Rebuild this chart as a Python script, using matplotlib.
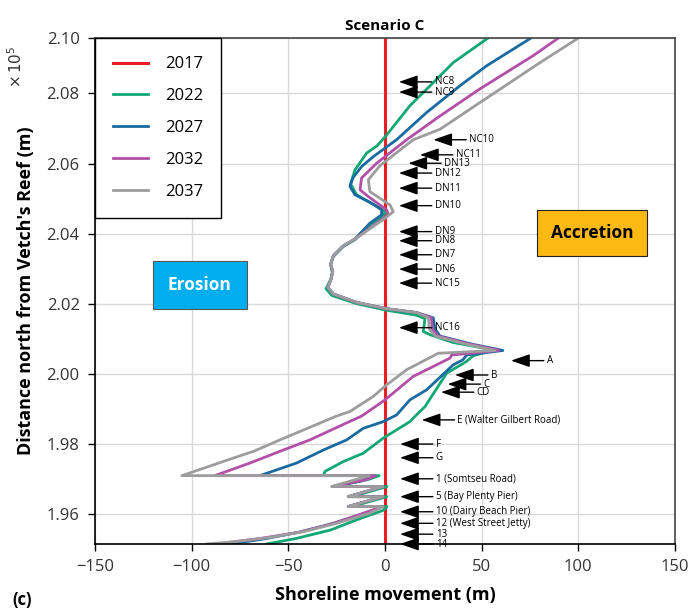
import matplotlib.pyplot as plt

plt.rcParams['font.family'] = ['Open Sans', 'DejaVu Sans']

# shoreline movement (m) vs distance north (x 1e5 m)
years = ['2017', '2022', '2027', '2032', '2037']
colors = ['#ED1C24', '#12A874', '#1A6AA2', '#B34FA8', '#9D9D9D']

move_2017 = [0, 0]
north_2017 = [1.9515, 2.0958]

move_2022 = [53.3, 35.3, 25.0, 12.9, 0.5, -4.0, -9.5, -15.5, -17.8, -14.6, -8.0, -2.6, 0.3, -2.5,
             -8.0, -15.5, -21.6, -26.7, -28.1, -27.3, -28.0, -30.5, -27.5, -15.0, 0.5, 16.0, 20.7,
             19.8, 23.3, 35.0, 50.9, 55.5, 45.7, 42.0, 31.9, 20.7, 14.6, 12.9, -0.9, -11.2, -21.6,
             -31.0, -31.9, -3.0, -8.0, -26.0, 1.0, -17.0, 1.0, -17.0, 1.0, -0.9, -14.6, -28.1,
             -45.7, -61.2]
north_2022 = [2.0958, 2.0888, 2.0831, 2.0765, 2.0679, 2.0651, 2.0630, 2.0582, 2.0542, 2.0511, 2.0490,
              2.0473, 2.0460, 2.0444, 2.0425, 2.0383, 2.0363, 2.0335, 2.0311, 2.0290, 2.0270, 2.0243,
              2.0224, 2.0201, 2.0182, 2.0168, 2.0158, 2.0121, 2.0112, 2.0090, 2.0074, 2.0067, 2.0052,
              2.0035, 2.0002, 1.9907, 1.9874, 1.9864, 1.9817, 1.9774, 1.9750, 1.9722, 1.9710, 1.9710,
              1.9700, 1.9679, 1.9679, 1.9650, 1.9650, 1.9622, 1.9622, 1.9611, 1.9584, 1.9555, 1.9531,
              1.9515]

move_2027 = [75.5, 52.6, 38.8, 21.6, 6.0, -6.0, -12.0, -16.5, -18.1, -15.5, -6.9, -1.7, -1.7, -7.8,
             -15.5, -21.6, -26.7, -28.1, -27.0, -27.8, -29.5, -26.7, -14.6, 0.9, 16.4, 25.0, 25.9,
             28.5, 45.0, 61.0, 42.3, 40.2, 35.3, 21.6, 12.9, 6.0, -0.9, -11.2, -19.8, -31.9, -45.7,
             -64.7, -7.0, -12.0, -27.0, -1.0, -19.0, -1.0, -19.0, -1.0, -12.0, -28.0, -45.0, -62.0,
             -80.0]
north_2027 = [2.0958, 2.0879, 2.0822, 2.0746, 2.0668, 2.0620, 2.0592, 2.0560, 2.0535, 2.0511, 2.0487,
              2.0468, 2.0454, 2.0430, 2.0385, 2.0365, 2.0337, 2.0313, 2.0292, 2.0272, 2.0247, 2.0228,
              2.0204, 2.0186, 2.0175, 2.0160, 2.0128, 2.0108, 2.0085, 2.0067, 2.0054, 2.0040, 2.0026,
              1.9955, 1.9926, 1.9883, 1.9864, 1.9845, 1.9812, 1.9783, 1.9746, 1.9710, 1.9710, 1.9695,
              1.9679, 1.9679, 1.9650, 1.9650, 1.9622, 1.9622, 1.9600, 1.9572, 1.9548, 1.9530, 1.9515]

move_2032 = [89.7, 76.7, 49.1, 28.5, 11.2, -4.3, -12.1, -12.9, -8.6, 0.9, 1.7, -4.3, -15.5, -21.6,
             -26.7, -28.1, -27.0, -27.8, -29.5, -26.7, -14.6, 0.9, 16.4, 24.0, 24.5, 27.5, 44.0, 59.0,
             34.5, 33.6, 14.6, 0.0, -12.0, -20.0, -38.8, -52.6, -69.8, -88.0, -5.0, -10.0, -27.3,
             -1.0, -19.0, -1.0, -19.0, -1.0, -12.0, -27.0, -44.0, -63.0, -87.0]
north_2032 = [2.0958, 2.0908, 2.0813, 2.0736, 2.0668, 2.0601, 2.0559, 2.0525, 2.0506, 2.0468, 2.0454,
              2.0430, 2.0385, 2.0365, 2.0337, 2.0313, 2.0292, 2.0272, 2.0247, 2.0228, 2.0204, 2.0186,
              2.0175, 2.0160, 2.0128, 2.0108, 2.0085, 2.0067, 2.0054, 2.0045, 1.9993, 1.9926, 1.9880,
              1.9860, 1.9812, 1.9783, 1.9746, 1.9710, 1.9710, 1.9698, 1.9679, 1.9679, 1.9650, 1.9650,
              1.9622, 1.9622, 1.9601, 1.9573, 1.9549, 1.9532, 1.9515]

move_2037 = [100.0, 80.2, 49.1, 28.5, 14.6, -2.6, -8.6, -7.8, 2.6, 4.3, -0.9, -6.0, -15.5, -21.6,
             -26.7, -28.1, -27.0, -27.8, -29.5, -26.7, -14.6, 0.9, 16.4, 22.5, 23.0, 26.0, 42.0, 57.0,
             27.6, 11.2, 0.9, -6.0, -18.1, -25.0, -54.3, -68.1, -78.5, -105.0, -8.0, -27.6, -1.0,
             -19.0, -1.0, -19.0, -1.0, -7.8, -25.0, -42.3, -59.5, -76.7, -92.3]
north_2037 = [2.0958, 2.0888, 2.0774, 2.0698, 2.0668, 2.0594, 2.0554, 2.0520, 2.0482, 2.0463, 2.0440,
              2.0421, 2.0385, 2.0365, 2.0337, 2.0313, 2.0292, 2.0272, 2.0247, 2.0228, 2.0204, 2.0186,
              2.0175, 2.0160, 2.0128, 2.0108, 2.0085, 2.0067, 2.0059, 2.0012, 1.9969, 1.9936, 1.9893,
              1.9880, 1.9812, 1.9779, 1.9760, 1.9710, 1.9710, 1.9679, 1.9679, 1.9650, 1.9650, 1.9622,
              1.9622, 1.9603, 1.9574, 1.9550, 1.9534, 1.9522, 1.9515]

# site markers
site_labels = ['NC8', 'NC9', 'NC10', 'NC11', 'DN13', 'DN12', 'DN11', 'DN10', 'DN9', 'DN8', 'DN7',
               'DN6', 'NC15', 'NC16', 'A', 'B', 'C', 'CD', 'E (Walter Gilbert Road)', 'F', 'G',
               '1 (Somtseu Road)', '5 (Bay Plenty Pier)', '10 (Dairy Beach Pier)',
               '12 (West Street Jetty)', '13', '14']
site_north = [2.0833, 2.0804, 2.0668, 2.0625, 2.0601, 2.0573, 2.0530, 2.0480, 2.0406, 2.0380, 2.0340,
              2.0299, 2.0259, 2.0132, 2.0038, 1.9997, 1.9971, 1.9948, 1.9869, 1.9800, 1.9761, 1.9701,
              1.9650, 1.9607, 1.9574, 1.9543, 1.9515]
site_tip = [7.2, 7.2, 25.0, 18.1, 12.1, 7.2, 7.2, 7.2, 7.2, 7.2, 7.2, 7.2, 7.2, 7.2, 65.2, 36.2, 32.4,
            29.0, 19.0, 7.8, 7.8, 7.8, 7.8, 7.8, 7.8, 7.8, 7.8]

xticks = [-150, -100, -50, 0, 50, 100, 150]
yticks = [1.96, 1.98, 2.00, 2.02, 2.04, 2.06, 2.08, 2.0958]
ytick_labels = ['1.96', '1.98', '2.00', '2.02', '2.04', '2.06', '2.08', '2.10']

fig = plt.figure(figsize=(6.93, 6.14), dpi=100)
ax = fig.add_axes([0.137, 0.114, 0.837, 0.824])

moves = [move_2017, move_2022, move_2027, move_2032, move_2037]
norths = [north_2017, north_2022, north_2027, north_2032, north_2037]
for yr, c, mv, nn in zip(years, colors, moves, norths):
    ax.plot(mv, nn, color=c, lw=2.0 if yr != '2017' else 2.2, label=yr, solid_joinstyle='round')

for lab, n, t in zip(site_labels, site_north, site_tip):
    ax.annotate('', xy=(t, n), xytext=(t + 17, n),
                arrowprops=dict(arrowstyle='-|>,head_length=1.15,head_width=0.4', color='k',
                                lw=1.0, mutation_scale=10, shrinkA=0, shrinkB=0),
                annotation_clip=False)
    ax.text(t + 18.5, n, lab, fontsize=7, va='center', ha='left', clip_on=False)

ax.text(-95.7, 2.0254, 'Erosion', fontsize=12.5, fontweight='bold', color='white', ha='center',
        va='center', bbox=dict(boxstyle='square,pad=0.85', fc='#00AEEF', ec='#555555', lw=0.8))
ax.text(107, 2.0403, 'Accretion', fontsize=12.5, fontweight='bold', color='black', ha='center',
        va='center', bbox=dict(boxstyle='square,pad=0.8', fc='#FDB913', ec='#222222', lw=0.8))

ax.set_xlim(-150, 150)
ax.set_ylim(1.9515, 2.0958)
ax.set_xticks(xticks)
ax.set_xticklabels([str(v).replace('-', '\u2212') for v in xticks])
ax.set_yticks(yticks)
ax.set_yticklabels(ytick_labels)
ax.tick_params(direction='out', length=5, width=1, labelsize=12, labelcolor='#333333', pad=6)
ax.grid(True, color='#D9D9D9', lw=1)
ax.set_axisbelow(True)
for s in ['left', 'bottom']:
    ax.spines[s].set_color('black')
    ax.spines[s].set_linewidth(1.2)
for s in ['top', 'right']:
    ax.spines[s].set_color('#444444')
    ax.spines[s].set_linewidth(1.2)

ax.set_title('Scenario C', fontsize=11, fontweight='bold', pad=6)
ax.set_xlabel('Shoreline movement (m)', fontsize=13, fontweight='bold', labelpad=8)
ax.set_ylabel("Distance north from Vetch's Reef (m)", fontsize=13, fontweight='bold', labelpad=8)
fig.text(0.024, 0.892, r'$\times\,10^5$', rotation=90, fontsize=11, ha='center', va='center',
         color='#333333')
fig.text(0.018, 0.022, '(c)', fontsize=12, fontweight='bold', ha='left', va='center')

leg = ax.legend(loc='upper left', borderaxespad=0, fontsize=12, fancybox=False, framealpha=1,
                edgecolor='black', handlelength=2.1, labelspacing=0.95, borderpad=1.1,
                handletextpad=1.0)
leg.get_frame().set_linewidth(1.0)

fig.savefig('out.png', dpi=100)
